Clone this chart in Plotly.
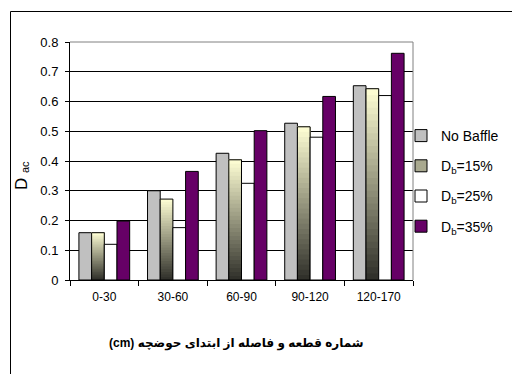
import plotly.graph_objects as go

# Sections of the basin and measured D_ac for each baffle configuration
categories = ["0-30", "30-60", "60-90", "90-120", "120-170"]
no_baffle = [0.159, 0.300, 0.426, 0.527, 0.653]
db_15 = [0.159, 0.272, 0.404, 0.515, 0.643]
db_25 = [0.120, 0.176, 0.325, 0.480, 0.620]
db_35 = [0.198, 0.365, 0.502, 0.617, 0.762]
y_ticks = [0, 0.1, 0.2, 0.3, 0.4, 0.5, 0.6, 0.7, 0.8]
y_tick_labels = ["0", "0.1", "0.2", "0.3", "0.4", "0.5", "0.6", "0.7", "0.8"]

series_names = ["No Baffle", "D<sub>b</sub>=15%", "D<sub>b</sub>=25%", "D<sub>b</sub>=35%"]

W, H = 512, 374
ML, MR, MT, MB = 70, 99, 42, 94
PW, PH = W - ML - MR, H - MT - MB

FONT = "Liberation Sans, Arial, DejaVu Sans, sans-serif"
OUTLINE = dict(color="black", width=1)

fig = go.Figure()

fig.add_trace(go.Bar(
    x=categories, y=no_baffle, name=series_names[0], offsetgroup="nb",
    marker=dict(color="#c0c0c0", line=OUTLINE), legendgroup="a", legendrank=1,
))

# Vertical gradient for the 15% series: pale yellow at the top fading to dark grey
TOP = (255, 255, 213)
BOTTOM = (46, 46, 40)
N_STEPS = 30
for k in range(N_STEPS):
    t = (k + 0.5) / N_STEPS
    rgb = tuple(round(b + t * (a - b)) for a, b in zip(TOP, BOTTOM))
    base = [v * k / N_STEPS for v in db_15]
    height = [v - b for v, b in zip(db_15, base)]
    fig.add_trace(go.Bar(
        x=categories, y=height, base=base, offsetgroup="d15", showlegend=False,
        marker=dict(color="rgb(%d,%d,%d)" % rgb, line=dict(width=0)),
        hoverinfo="skip",
    ))
# outline of the gradient bars
fig.add_trace(go.Bar(
    x=categories, y=db_15, offsetgroup="d15", showlegend=False,
    marker=dict(color="rgba(0,0,0,0)", line=OUTLINE),
))
# legend entry for the gradient series
fig.add_trace(go.Bar(
    x=categories, y=[None] * len(categories), name=series_names[1], offsetgroup="d15",
    marker=dict(color="#a9a98f", line=OUTLINE), legendgroup="b", legendrank=2,
))

fig.add_trace(go.Bar(
    x=categories, y=db_25, name=series_names[2], offsetgroup="d25",
    marker=dict(color="white", line=OUTLINE), legendgroup="c", legendrank=3,
))
fig.add_trace(go.Bar(
    x=categories, y=db_35, name=series_names[3], offsetgroup="d35",
    marker=dict(color="#660066", line=OUTLINE), legendgroup="d", legendrank=4,
))

def px_x(p):
    return (p - ML) / PW

def px_y(p):
    return (H - MB - p) / PH

shapes = [
    # outer chart frame (right and bottom edges fall outside the page)
    dict(type="rect", xref="paper", yref="paper",
         x0=px_x(10.5), x1=px_x(520), y0=px_y(11.5), y1=px_y(380),
         line=dict(color="black", width=1), layer="above"),
    # grey plot-area border on top and right
    dict(type="path", xref="paper", yref="paper",
         path="M 0 1 L 1 1 L 1 0", line=dict(color="#808080", width=1), layer="above"),
]

annotations = [
    # vertical axis label D_ac, written bottom-to-top
    dict(text="D", xref="paper", yref="paper",
         x=px_x(21), y=px_y(184), textangle=-90, showarrow=False,
         xanchor="center", yanchor="middle",
         font=dict(family=FONT, size=17, color="black")),
    dict(text="ac", xref="paper", yref="paper",
         x=px_x(25), y=px_y(167), textangle=-90, showarrow=False,
         xanchor="center", yanchor="middle",
         font=dict(family=FONT, size=11, color="black")),
    dict(text="<b>(cm) شماره قطعه و فاصله از ابتدای حوضچه</b>", xref="paper", yref="paper",
         x=px_x(236), y=px_y(343), showarrow=False,
         xanchor="center", yanchor="middle",
         font=dict(family=FONT, size=12, color="black")),
]

fig.update_layout(
    width=W, height=H,
    margin=dict(l=ML, r=MR, t=MT, b=MB, autoexpand=False),
    paper_bgcolor="white", plot_bgcolor="white",
    barmode="group", bargap=0.26, bargroupgap=0,
    font=dict(family=FONT, size=12, color="black"),
    showlegend=True,
    legend=dict(
        xref="container", yref="container", x=401 / W, y=1 - 120 / H,
        xanchor="left", yanchor="top",
        font=dict(family=FONT, size=14, color="black"),
        tracegroupgap=9, bgcolor="rgba(0,0,0,0)", traceorder="grouped",
    ),
    shapes=shapes,
    annotations=annotations,
)

fig.update_xaxes(
    type="category", showline=True, linecolor="black", linewidth=1,
    ticks="outside", tickson="boundaries", ticklen=5, tickcolor="black",
    ticklabelstandoff=6,
    showgrid=False, tickfont=dict(size=12),
)
fig.update_yaxes(
    range=[0, 0.8], tickvals=y_ticks, ticktext=y_tick_labels,
    showline=True, linecolor="black", linewidth=1,
    ticks="outside", ticklen=4, tickcolor="black", ticklabelstandoff=4,
    showgrid=True, gridcolor="black", gridwidth=1,
    zeroline=False, tickfont=dict(size=13),
    automargin=False,
)

fig.write_html("out.html")
